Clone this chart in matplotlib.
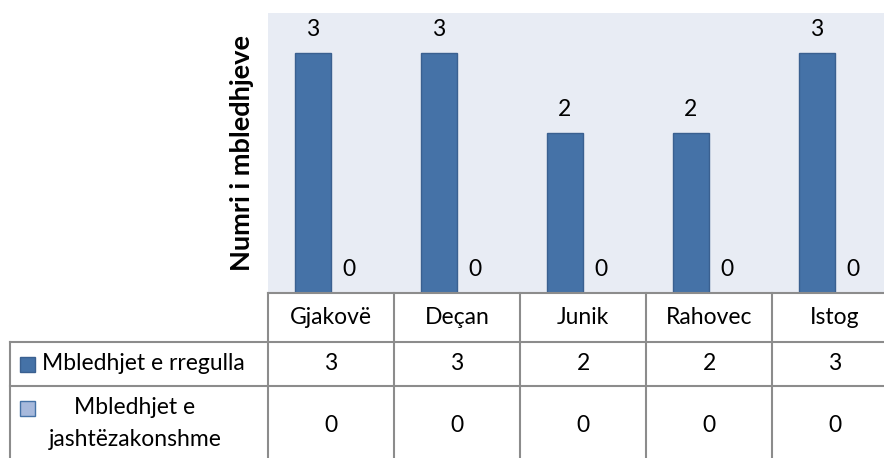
import matplotlib.pyplot as plt
import numpy as np

cities = ["Gjakovë", "Deçan", "Junik", "Rahovec", "Istog"]
rregulla = [3, 3, 2, 2, 3]
jashte = [0, 0, 0, 0, 0]
series_names = ["Mbledhjet e rregulla", "Mbledhjet e", "jashtëzakonshme"]

plt.rcParams["font.family"] = ["Lato", "DejaVu Sans"]
fs = 16.5

W, H = 884, 458
fig = plt.figure(figsize=(W / 100, H / 100), dpi=100)

# plot area (pixels) - the chart is cropped on the right
x0, x1 = 268, 898
y_top, y_bot = 13, 293
ax = fig.add_axes([x0 / W, 1 - y_bot / H, (x1 - x0) / W, (y_bot - y_top) / H])
ax.set_facecolor("#E8ECF4")
for s in ax.spines.values():
    s.set_visible(False)

x = np.arange(len(cities))
bw = 0.286
blue = "#4572A7"
b1 = ax.bar(x - bw / 2, rregulla, bw, color=blue, edgecolor="#3A6090", linewidth=1)
b2 = ax.bar(x + bw / 2, jashte, bw, color="#A7B9DC", edgecolor="#3A6090", linewidth=0)
for bars in (b1, b2):
    for r in bars:
        ax.annotate(f"{int(r.get_height())}", (r.get_x() + r.get_width() / 2, r.get_height()),
                    xytext=(0, 24), textcoords="offset pixels", ha="center", va="center",
                    fontsize=fs)
ax.set_xlim(-0.5, len(cities) - 0.5)
ax.set_ylim(0, 3.5)
ax.set_xticks([])
ax.set_yticks([])
ax.set_ylabel("Numri i mbledhjeve", fontsize=19.5, fontweight="bold", labelpad=10)

# data table below, y in pixels from the plot bottom
unit = (x1 - x0) / len(cities)
left_px = 10
tab = fig.add_axes([left_px / W, 0, (x1 - left_px) / W, (H - y_bot) / H])
tab.set_xlim(-0.5 - (x0 - left_px) / unit, len(cities) - 0.5)
tab.set_ylim(H - y_bot, 0)
tab.axis("off")
r1, r2, r3 = 49, 93, 175
lc = "#8C8C8C"
lw = 1.5
lx = tab.get_xlim()[0]
tab.plot([-0.5, 4.5], [0, 0], color=lc, lw=lw, clip_on=False)
tab.plot([lx, 4.5], [r1, r1], color=lc, lw=lw, clip_on=False)
tab.plot([lx, 4.5], [r2, r2], color=lc, lw=lw, clip_on=False)
tab.plot([lx, lx], [r1, r3], color=lc, lw=lw, clip_on=False)
for k in range(len(cities)):
    tab.plot([k - 0.5, k - 0.5], [0, r3], color=lc, lw=lw, clip_on=False)

for k, c in enumerate(cities):
    tab.text(k, r1 / 2, c, ha="center", va="center", fontsize=fs)
    tab.text(k, (r1 + r2) / 2, str(rregulla[k]), ha="center", va="center", fontsize=fs)
    tab.text(k, 132, str(jashte[k]), ha="center", va="center", fontsize=fs)

# legend keys in the row headers
sq = 15 / unit
tab.add_patch(plt.Rectangle((lx + 10 / unit, (r1 + r2) / 2 - 7.5), sq, 15,
                            facecolor=blue, edgecolor="#3A6090", lw=1))
tab.add_patch(plt.Rectangle((lx + 10 / unit, 115 - 7.5), sq, 15,
                            facecolor="#A7B9DC", edgecolor="#4572A7", lw=1))
tab.text(lx + 32 / unit, (r1 + r2) / 2, series_names[0], ha="left", va="center", fontsize=fs)
tab.text(lx + 125 / unit, 115, series_names[1], ha="center", va="center", fontsize=fs)
tab.text(lx + 125 / unit, 147, series_names[2], ha="center", va="center", fontsize=fs)

fig.savefig("out.png", dpi=100)
